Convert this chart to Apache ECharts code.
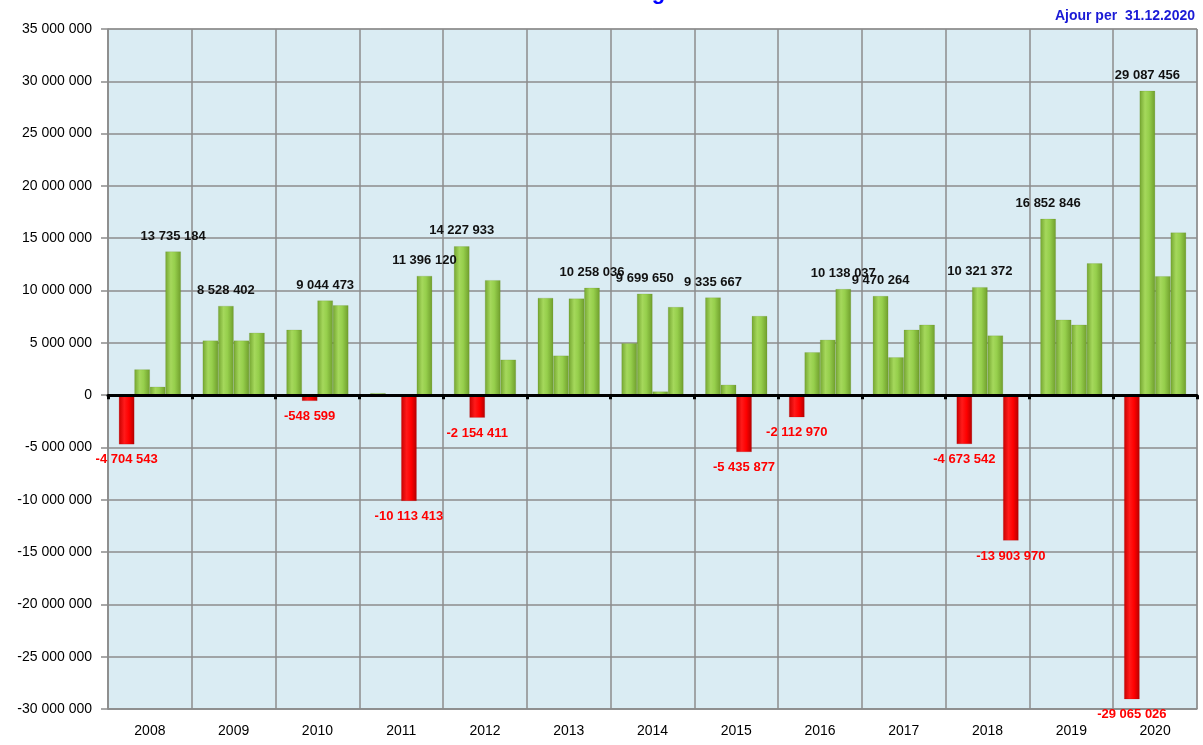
<!DOCTYPE html>
<html>
<head>
<meta charset="utf-8">
<script src="https://cdn.jsdelivr.net/npm/echarts@6/dist/echarts.min.js"></script>
<style>
  html, body { margin: 0; padding: 0; background: #ffffff; }
  #chart { width: 1203px; height: 745px; }
</style>
</head>
<body>
<div id="chart"></div>
<script>
// years on the x axis
const years = ['2008', '2009', '2010', '2011', '2012', '2013', '2014', '2015', '2016', '2017', '2018', '2019', '2020'];

// quarterly values per year
const q1 = [-4704543, 5220000, 6250000, 190000, 14227933, 9290000, 4960000, 9335667, -2112970, 9470264, -4673542, 16852846, -29065026];
const q2 = [2460000, 8528402, -548599, 0, -2154411, 3780000, 9699650, 990000, 4100000, 3620000, 10321372, 7210000, 29087456];
const q3 = [800000, 5220000, 9044473, -10113413, 10990000, 9230000, 350000, -5435877, 5290000, 6250000, 5700000, 6730000, 11370000];
const q4 = [13735184, 5960000, 8590000, 11396120, 3390000, 10258036, 8420000, 7560000, 10138037, 6730000, -13903970, 12600000, 15540000];

const titleText = 'Kvartalsvis avkastning 2008-2020';
const updatedText = 'Ajour per  31.12.2020';

// format numbers with space as thousands separator
const fmt = (v) => {
    const s = Math.abs(v).toString().replace(/\B(?=(\d{3})+(?!\d))/g, ' ');
    return (v < 0 ? '-' : '') + s;
};

const greenFill = new echarts.graphic.LinearGradient(0, 0, 1, 0, [
    { offset: 0, color: '#74a530' },
    { offset: 0.35, color: '#a5d85c' },
    { offset: 0.6, color: '#96cf4c' },
    { offset: 1, color: '#6f9e2c' }
]);
const redFill = new echarts.graphic.LinearGradient(0, 0, 1, 0, [
    { offset: 0, color: '#c80000' },
    { offset: 0.35, color: '#ff1a1a' },
    { offset: 0.65, color: '#ff0000' },
    { offset: 1, color: '#b40000' }
]);

// label the yearly max and every negative quarter
const quarters = [q1, q2, q3, q4];
const yearMax = years.map((y, i) => Math.max(q1[i], q2[i], q3[i], q4[i]));

const buildSeries = (vals, idx) => ({
    name: 'Q' + (idx + 1),
    type: 'bar',
    barGap: '0%',
    barCategoryGap: '26%',
    data: vals.map((v, i) => {
        const neg = v < 0;
        const show = neg || v === yearMax[i];
        return {
            value: v,
            itemStyle: {
                color: neg ? redFill : greenFill,
                borderColor: neg ? 'rgba(150,0,0,0.35)' : 'rgba(90,130,30,0.35)',
                borderWidth: 0.5
            },
            label: {
                show: show,
                position: neg ? 'bottom' : 'top',
                distance: 9,
                color: neg ? '#ff0000' : '#111111',
                fontWeight: 'bold',
                fontSize: 13,
                fontFamily: 'Liberation Sans',
                formatter: (p) => fmt(p.value)
            }
        };
    })
});

const chart = echarts.init(document.getElementById('chart'));
const option = {
    animation: false,
    grid: {
        left: 108,
        right: 6,
        top: 29,
        bottom: 36,
        show: true,
        backgroundColor: '#daecf3',
        borderColor: '#8c8c8c',
        borderWidth: 1
    },
    graphic: [
        {
            type: 'text',
            left: 'center',
            top: -18,
            style: {
                text: titleText,
                font: 'bold 22px "Liberation Sans"',
                fill: '#0000ff'
            }
        },
        {
            type: 'text',
            right: 8,
            top: 9,
            style: {
                text: updatedText,
                font: 'bold 14px "Liberation Sans"',
                fill: '#1a1ad6'
            }
        }
    ],
    xAxis: [
        {
            type: 'category',
            data: years,
            axisLine: { onZero: false, lineStyle: { color: '#8c8c8c', width: 1.5 } },
            axisTick: { show: false },
            axisLabel: { color: '#000', fontSize: 14, fontFamily: 'Liberation Sans', margin: 15 },
            splitLine: { show: true, lineStyle: { color: '#8c8c8c', width: 1.5 } }
        },
        {
            type: 'category',
            data: years,
            position: 'bottom',
            z: 10,
            axisLine: { onZero: true, lineStyle: { color: '#000', width: 3 } },
            axisTick: { show: true, length: 4, lineStyle: { color: '#000', width: 3 } },
            axisLabel: { show: false },
            splitLine: { show: false }
        }
    ],
    yAxis: {
        type: 'value',
        min: -30000000,
        max: 35000000,
        interval: 5000000,
        axisLine: { show: true, lineStyle: { color: '#8c8c8c', width: 1.5 } },
        axisTick: { show: true, length: 7, lineStyle: { color: '#8c8c8c', width: 1.5 } },
        axisLabel: {
            color: '#000',
            fontSize: 14,
            fontFamily: 'Liberation Sans',
            margin: 16,
            formatter: (v) => fmt(v)
        },
        splitLine: { show: true, lineStyle: { color: '#8c8c8c', width: 1.5 } }
    },
    series: quarters.map(buildSeries)
};
chart.setOption(option);
</script>
</body>
</html>
